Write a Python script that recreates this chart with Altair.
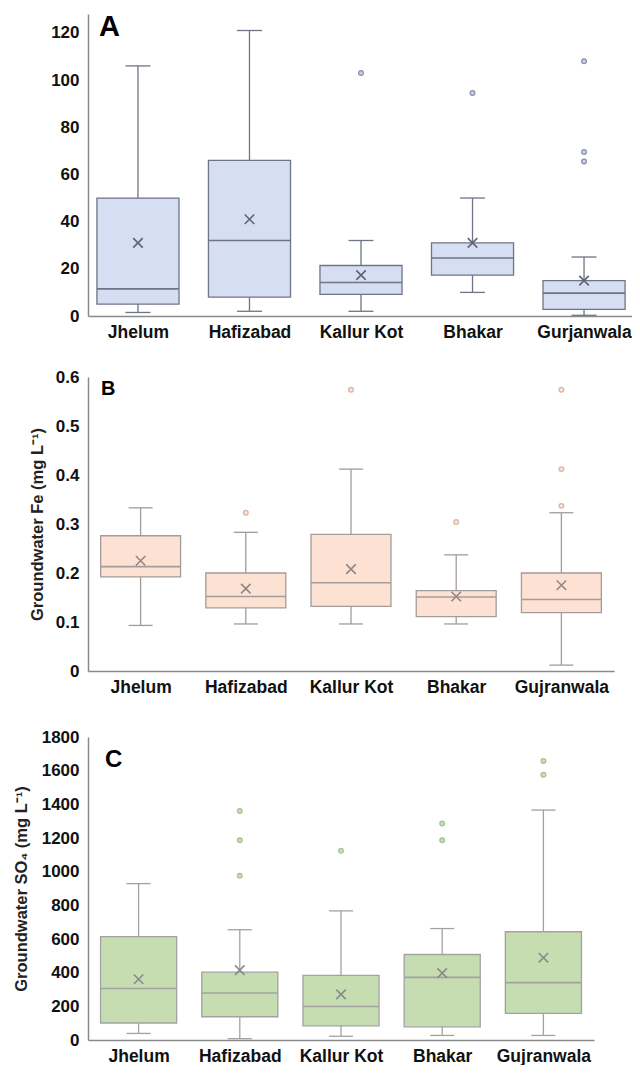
import json
import altair as alt
import pandas as pd

# ---------------- data ----------------
labels_a = ["Jhelum", "Hafizabad", "Kallur Kot", "Bhakar", "Gurjanwala"]
labels_bc = ["Jhelum", "Hafizabad", "Kallur Kot", "Bhakar", "Gujranwala"]

# Panel A
a_min = [1.5, 2, 2, 10, 0.3]
a_q1 = [5, 8, 9.2, 17.3, 2.8]
a_med = [11.5, 32, 14.2, 24.6, 9.7]
a_q3 = [50, 66, 21.4, 31, 15]
a_max = [106, 121, 32, 50, 25]
a_mean = [31, 41, 17.3, 31, 15]
a_out_site = [2, 3, 4, 4, 4]
a_out_val = [103, 94.5, 108, 69.5, 65.5]

# Panel B (Fe)
b_min = [0.093, 0.096, 0.096, 0.096, 0.012]
b_q1 = [0.192, 0.129, 0.132, 0.111, 0.119]
b_med = [0.213, 0.152, 0.18, 0.151, 0.146]
b_q3 = [0.276, 0.2, 0.279, 0.164, 0.2]
b_max = [0.333, 0.283, 0.412, 0.237, 0.323]
b_mean = [0.225, 0.168, 0.208, 0.152, 0.175]
b_out_site = [1, 2, 3, 4, 4, 4]
b_out_val = [0.323, 0.574, 0.304, 0.574, 0.412, 0.337]

# Panel C (SO4)
c_min = [39, 8, 22, 27, 27]
c_q1 = [101, 138, 84, 78, 158]
c_med = [306, 279, 199, 372, 341]
c_q3 = [614, 403, 384, 508, 643]
c_max = [929, 655, 767, 662, 1366]
c_mean = [361, 415, 271, 397, 489]
c_out_site = [1, 1, 1, 2, 3, 3, 4, 4]
c_out_val = [1360, 1186, 976, 1124, 1286, 1186, 1658, 1576]

a_ticks = [0, 20, 40, 60, 80, 100, 120]
b_ticks = [0, 0.1, 0.2, 0.3, 0.4, 0.5, 0.6]
c_ticks = [0, 200, 400, 600, 800, 1000, 1200, 1400, 1600, 1800]

FONT = "Liberation Sans"
XPATH = "M-1,-1L1,1M1,-1L-1,1"


def panel(labels, wmin, q1, med, q3, wmax, mean, out_site, out_val, *,
          width, height, xdom, ydom, yticks, ylab_expr, ytitle, title_x,
          letter, letter_size, letter_x, letter_y, fill, stroke, mean_col,
          ofill, ostroke, axis_col, hw, cw):
    df = pd.DataFrame({
        "idx": list(range(len(labels))),
        "wmin": wmin, "q1": q1, "med": med, "q3": q3,
        "wmax": wmax, "mean": mean,
    })
    odf = pd.DataFrame({"idx": out_site, "val": out_val})

    xscale = alt.Scale(domain=xdom, nice=False, zero=False)
    yscale = alt.Scale(domain=ydom, nice=False, zero=True)
    xaxis = alt.Axis(values=list(range(len(labels))),
                     labelExpr=json.dumps(labels) + "[datum.value]",
                     title=None, grid=False, ticks=False,
                     domainColor=axis_col, domainWidth=1.5,
                     labelFont=FONT, labelFontSize=17.5, labelFontWeight="bold",
                     labelColor="#111", labelPadding=7, labelOverlap=False)
    yax_kw = dict(values=yticks, labelExpr=ylab_expr, grid=False, ticks=False,
                  domainColor=axis_col, domainWidth=1.5,
                  labelFont=FONT, labelFontSize=17, labelFontWeight="bold",
                  labelColor="#111", labelPadding=9,
                  minExtent=80, maxExtent=80)
    if ytitle is not None:
        yaxis = alt.Axis(title=ytitle, titleFont=FONT, titleFontSize=16.5,
                         titleFontWeight="bold", titleColor="#222",
                         titleX=title_x, titleY=height / 2,
                         titleBaseline="middle", titleAlign="center",
                         titleAngle=270, **yax_kw)
    else:
        yaxis = alt.Axis(title=None, **yax_kw)

    def X(f):
        return alt.X(f, scale=xscale, axis=xaxis)

    def Y(f):
        return alt.Y(f, scale=yscale, axis=yaxis)

    base = alt.Chart(df).transform_calculate(
        xl=f"datum.idx - {hw}", xr=f"datum.idx + {hw}",
        cl=f"datum.idx - {cw}", cr=f"datum.idx + {cw}",
    )

    whisk = base.mark_rule(color=stroke, strokeWidth=1.3).encode(
        x=X("idx:Q"), y=Y("wmin:Q"), y2="wmax:Q")
    box = base.mark_rect(fill=fill, stroke=stroke, strokeWidth=1.3).encode(
        x=X("xl:Q"), x2="xr:Q", y=Y("q1:Q"), y2="q3:Q")
    median = base.mark_rule(color=stroke, strokeWidth=1.6).encode(
        x=X("xl:Q"), x2="xr:Q", y=Y("med:Q"))
    cap_lo = base.mark_rule(color=stroke, strokeWidth=1.3).encode(
        x=X("cl:Q"), x2="cr:Q", y=Y("wmin:Q"))
    cap_hi = base.mark_rule(color=stroke, strokeWidth=1.3).encode(
        x=X("cl:Q"), x2="cr:Q", y=Y("wmax:Q"))
    mean_pt = base.mark_point(shape=XPATH, size=90, filled=False,
                              stroke=mean_col, strokeWidth=1.6,
                              opacity=1).encode(x=X("idx:Q"), y=Y("mean:Q"))
    outl = alt.Chart(odf).mark_circle(size=22, color=ofill, stroke=ostroke,
                                      strokeWidth=1.3, opacity=1).encode(
        x=X("idx:Q"), y=Y("val:Q"))
    let = alt.Chart(pd.DataFrame({"t": [letter]})).mark_text(
        font=FONT, fontSize=letter_size, fontWeight="bold", color="#000",
        align="left", baseline="alphabetic").encode(
        text="t:N", x=alt.value(letter_x), y=alt.value(letter_y))

    return alt.layer(whisk, box, median, cap_lo, cap_hi, mean_pt, outl,
                     let).properties(width=width, height=height)


pa = panel(labels_a, a_min, a_q1, a_med, a_q3, a_max, a_mean,
           a_out_site, a_out_val,
           width=544, height=302, xdom=[-0.448, 4.43], ydom=[0, 128],
           yticks=a_ticks, ylab_expr="format(datum.value, 'd')", ytitle=None,
           title_x=0,
           letter="A", letter_size=29, letter_x=11, letter_y=22,
           fill="#D6DEF3", stroke="#6F7486", mean_col="#5F6476",
           ofill="#C9D0EA", ostroke="#8890B2", axis_col="#8A8A8A",
           hw=0.368, cw=0.112)

pb = panel(labels_bc, b_min, b_q1, b_med, b_q3, b_max, b_mean,
           b_out_site, b_out_val,
           width=526, height=294, xdom=[-0.5, 4.5], ydom=[0, 0.6],
           yticks=b_ticks,
           ylab_expr="datum.value == 0 ? '0' : format(datum.value, '.1f')",
           ytitle="Groundwater Fe (mg L\u207b\u00b9)", title_x=-51,
           letter="B", letter_size=20, letter_x=13, letter_y=18,
           fill="#FDE1D2", stroke="#A39C9B", mean_col="#8E8887",
           ofill="#FAE3D8", ostroke="#DDB4A2", axis_col="#8A8A8A",
           hw=0.38, cw=0.114)

pc = panel(labels_bc, c_min, c_q1, c_med, c_q3, c_max, c_mean,
           c_out_site, c_out_val,
           width=506, height=303, xdom=[-0.5, 4.5], ydom=[0, 1800],
           yticks=c_ticks, ylab_expr="format(datum.value, 'd')",
           ytitle="Groundwater SO\u2084 (mg L\u207b\u00b9)", title_x=-67,
           letter="C", letter_size=24, letter_x=17, letter_y=30,
           fill="#C6DDB2", stroke="#A2A2A2", mean_col="#8A8A8A",
           ofill="#C9DEBA", ostroke="#A6C494", axis_col="#8A8A8A",
           hw=0.376, cw=0.119)

chart = alt.vconcat(
    pa,
    alt.vconcat(pb, pc, spacing=32),
    spacing=27,
).configure(
    padding={"left": 0, "top": 5, "right": 0, "bottom": 0},
    background="white",
).configure_view(stroke=None)

chart.save("out.html", embed_options={"renderer": "svg", "actions": False})
